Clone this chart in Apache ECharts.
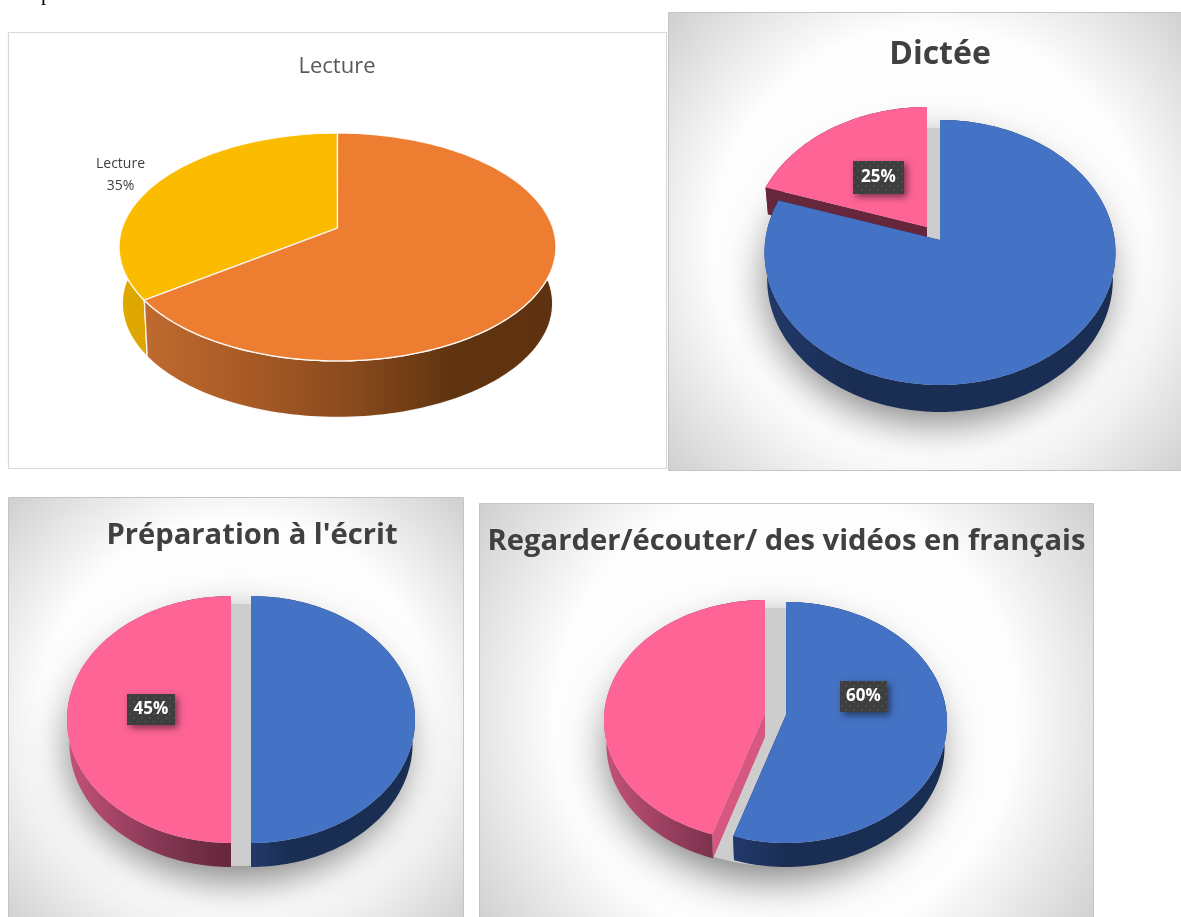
<!DOCTYPE html>
<html>
<head>
<meta charset="utf-8">
<style>html,body{margin:0;padding:0;background:#fff}#c{width:1181px;height:917px}</style>
<script src="https://cdn.jsdelivr.net/npm/echarts@6/dist/echarts.min.js"></script>
</head>
<body>
<div id="c"></div>
<script>
// ---- data (clockwise from 12 o'clock) ----
const lectureValues = [65, 35];
const dicteeValues = [80, 20];
const preparationValues = [50, 50];
const regarderValues = [55, 45];
const titles = ['Lecture', 'Dictée', "Préparation à l'écrit", 'Regarder/écouter/ des vidéos en français'];
const dicteeLabel = '25%';
const preparationLabel = '45%';
const regarderLabel = '60%';
const lectureLabel = 'Lecture\n35%';

// ---- layout and styling ----
const orange = ['#bf6a2f', '#a85a25', '#8a4a1e', '#60340f', '#5e3210'];
const MAROON = ['#66263c', '#66263c', '#66263c', '#66263c', '#66263c'];
const BLUE = {top: '#4472c4', wall: ['#22396b', '#1a2d52', '#1a2d52', '#1a2d52', '#1a2d52'], cut: '#1a2d52'};
const PINK = {top: '#fe6496', wall: ['#c45279', '#a9466a', '#8d3a58', '#743048', '#66263c'], cut: '#66263c'};

const pies = [
  {values: lectureValues, cx: 337.5, cy: 228, a: 215.4, b: 110.8, k: 1 / 6, depth: 56.5, line: 'rgba(255,255,255,0.92)',
   slices: [{top: '#ed7d31', wall: orange, cut: '#8a4a1e', dx: 0, dy: 0},
            {top: '#fbbc00', wall: ['#e0a800', '#d8a300', '#d8a300', '#d8a300', '#d8a300'], cut: '#d8a300', dx: 0, dy: 0}]},
  {values: dicteeValues, cx: 940, cy: 240, a: 174.7, b: 131.3, k: 0.0943, depth: 27,
   slices: [{...BLUE, dx: 0, dy: 0}, {...PINK, wall: MAROON, dx: -13, dy: -13}],
   label: {text: dicteeLabel, x: 878.5, y: 177.5, w: 51, h: 33},
   shade: {cx: 939, cy: 268, rx: 170, ry: 140}},
  {values: preparationValues, cx: 251, cy: 712, a: 163.7, b: 123, k: 0.0607, depth: 24,
   slices: [{...BLUE, dx: 0, dy: 0}, {...PINK, dx: -20, dy: 0}],
   label: {text: preparationLabel, x: 151, y: 709.5, w: 48, h: 31},
   shade: {cx: 240, cy: 735, rx: 168, ry: 131}},
  {values: regarderValues, cx: 786, cy: 715, a: 160.7, b: 120, k: 0.062, depth: 24,
   slices: [{...BLUE, dx: 0, dy: 0}, {...PINK, dx: -21, dy: -2}],
   label: {text: regarderLabel, x: 863.5, y: 696.5, w: 47, h: 31},
   shade: {cx: 775, cy: 737, rx: 165, ry: 129}}
];
pies[3].slices[1].cut = '#d6577f';
const wallShrink = 0.985;

const dots = document.createElement('canvas');
dots.width = dots.height = 8;
(function () {
  const g = dots.getContext('2d');
  g.fillStyle = '#3e3e3e'; g.fillRect(0, 0, 8, 8);
  g.fillStyle = '#4c4c4c'; g.fillRect(1, 1, 2, 2); g.fillRect(5, 5, 2, 2);
})();

function project(pie, s, frac) {
  const t = 2 * Math.PI * frac, u = Math.sin(t), v = -Math.cos(t), w = 1 - pie.k * v;
  return [pie.cx + s.dx + pie.a * u / w, pie.cy + s.dy + pie.b * v / w];
}

function sliceItem(pie) {
  return function (params, api) {
    const start = api.value(0), end = api.value(1), s = pie.slices[api.value(2)];
    const n = Math.max(12, Math.round((end - start) * 240)), arc = [];
    for (let j = 0; j <= n; j++) arc.push(project(pie, s, start + (end - start) * j / n));
    const apex = [pie.cx + s.dx, pie.cy + s.dy];
    const drop = p => [apex[0] + (p[0] - apex[0]) * wallShrink, p[1] + pie.depth];
    const xs = arc.map(p => p[0]).concat(apex[0]);
    const minX = Math.min.apply(null, xs), maxX = Math.max.apply(null, xs);
    const stops = s.wall.map((c, j) => ({offset: j / (s.wall.length - 1), color: c}));
    const grad = {type: 'linear', x: minX, y: 0, x2: maxX, y2: 0, global: true, colorStops: stops};
    const edge = pie.line ? {stroke: pie.line, lineWidth: 1.3} : {};
    const kids = [];
    const quad = e => ({type: 'polygon', shape: {points: [apex, e, drop(e), [apex[0], apex[1] + pie.depth]]},
      style: {fill: s.cut}});
    kids.push(quad(arc[0]), quad(arc[n]));
    kids.push({type: 'polygon', shape: {points: arc.concat(arc.map(drop).reverse())}, style: {fill: grad, ...edge}});
    kids.push({type: 'polygon', shape: {points: [apex].concat(arc)}, style: {fill: s.top, ...edge}});
    return {type: 'group', children: kids};
  };
}

const series = [];
pies.forEach((pie, i) => {
  const total = pie.values.reduce((a, b) => a + b, 0);
  let acc = 0;
  const rows = pie.values.map((v, j) => { const r = [acc / total, (acc + v) / total, j]; acc += v; return r; });
  series.push({type: 'custom', coordinateSystem: 'none', silent: true, animation: false, clip: false,
    z: 3 + i, data: rows.reverse(), renderItem: sliceItem(pie)});
});

const panel = (x, y, w, h, r) => ({type: 'rect', silent: true, z: 0,
  shape: {x: x + 0.5, y: y + 0.5, width: w, height: h},
  style: {stroke: '#c4c4c4', lineWidth: 1,
    fill: {type: 'radial', x: 0.5, y: 0.5, r: r, colorStops: [{offset: 0, color: '#ffffff'}, {offset: 0.62, color: '#fdfdfd'}, {offset: 1, color: '#cfcfcf'}]}}});

const graphics = [
  {type: 'rect', silent: true, z: 0, shape: {x: 8.5, y: 32.5, width: 658, height: 436}, style: {fill: '#fff', stroke: '#d9d9d9', lineWidth: 1.2}},
  panel(668, 12, 520, 458, 0.757),
  panel(8, 497, 455, 430, 0.728),
  panel(479, 503, 614, 424, 0.88),
  {type: 'text', silent: true, z: 1, x: 41, y: 5, style: {text: 'p', font: '21px "Liberation Serif"', fill: '#000', textVerticalAlign: 'bottom'}},
  {type: 'text', silent: true, z: 1, x: 120.5, y: 175, style: {text: lectureLabel, font: '14px "Open Sans"', lineHeight: 22, fill: '#404040', textAlign: 'center', textVerticalAlign: 'middle'}}
];
pies.forEach(pie => {
  if (pie.shade) {
    const d = pie.shade;
    graphics.push({type: 'ellipse', silent: true, z: 1, shape: {cx: d.cx, cy: d.cy, rx: d.rx, ry: d.ry},
      style: {fill: '#cdcdcd', shadowBlur: 42, shadowOffsetX: -2, shadowOffsetY: 14, shadowColor: 'rgba(0,0,0,0.5)'}});
  }
});

const labelSeries = pies.filter(p => p.label).map(pie => ({
  type: 'custom', coordinateSystem: 'none', silent: true, animation: false, z: 20, data: [[0]],
  renderItem: () => {
    const l = pie.label;
    return {type: 'group', children: [
      {type: 'rect', shape: {x: l.x - l.w / 2, y: l.y - l.h / 2, width: l.w, height: l.h},
       style: {fill: {image: dots, repeat: 'repeat'}, shadowBlur: 7, shadowOffsetX: 3, shadowOffsetY: 3, shadowColor: 'rgba(0,0,0,0.5)'}},
      {type: 'text', style: {x: l.x, y: l.y, text: l.text, font: 'bold 17px "Open Sans"', fill: '#fff', textAlign: 'center', textVerticalAlign: 'middle'}}
    ]};
  }
}));

const tstyle = (size, color, weight) => ({fontFamily: 'Open Sans', fontSize: size, color: color, fontWeight: weight});
const option = {
  animation: false,
  backgroundColor: '#fff',
  title: [
    {text: titles[0], left: 337, top: 56, padding: 0, textAlign: 'center', textStyle: tstyle(22, '#595959', 'normal')},
    {text: titles[1], left: 940, top: 39, padding: 0, textAlign: 'center', textStyle: tstyle(32, '#404040', 'bold')},
    {text: titles[2], left: 252, top: 521, padding: 0, textAlign: 'center', textStyle: tstyle(29.2, '#404040', 'bold')},
    {text: titles[3], left: 786.5, top: 527, padding: 0, textAlign: 'center', textStyle: tstyle(29.2, '#404040', 'bold')}
  ],
  graphic: {elements: graphics},
  series: series.concat(labelSeries)
};
const chart = echarts.init(document.getElementById('c'), null, {renderer: 'canvas'});
chart.setOption(option);
</script>
</body>
</html>
